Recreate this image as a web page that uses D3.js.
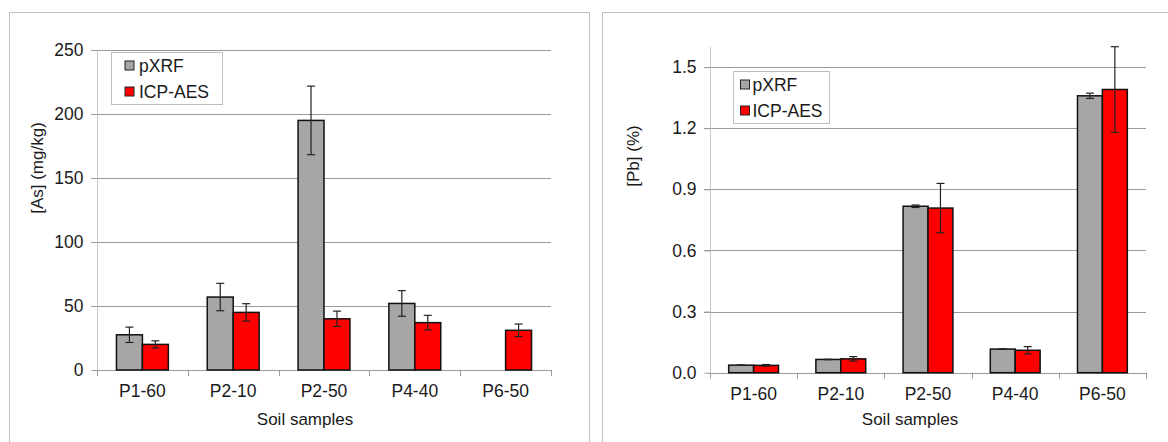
<!DOCTYPE html>
<html><head><meta charset="utf-8">
<script src="https://cdn.jsdelivr.net/npm/d3@7"></script>
<style>
body{margin:0;background:#fff;}
text{font-family:"Liberation Sans",Arial,sans-serif;fill:#1a1a1a;}
</style></head>
<body><svg id="c" width="1168" height="442"></svg>
<script>
const categories = ["P1-60","P2-10","P2-50","P4-40","P6-50"];
const seriesNames = ["pXRF","ICP-AES"];
const seriesColors = ["#a6a6a6","#ff0000"];
// As (mg/kg)
const asPXRF = [27.5, 57, 195, 52, null];
const asPXRFErr = [6, 10.7, 26.8, 10, null];
const asICP = [20, 45, 40, 37, 31];
const asICPErr = [2.8, 6.8, 6, 5.7, 4.9];
const asTicks = [0, 50, 100, 150, 200, 250];
// Pb (%)
const pbPXRF = [0.037, 0.065, 0.817, 0.116, 1.359];
const pbPXRFErr = [0.001, 0.001, 0.006, 0.001, 0.013];
const pbICP = [0.036, 0.068, 0.808, 0.110, 1.390];
const pbICPErr = [0.004, 0.011, 0.121, 0.018, 0.21];
const pbTicks = [0, 0.3, 0.6, 0.9, 1.2, 1.5];

const svg = d3.select("#c");
const FS = "17px";

// panel frames
svg.append("path").attr("d","M9.5,442 V12.5 H589.5 V442").attr("fill","none").attr("stroke","#bdbdbd");
svg.append("path").attr("d","M602.5,442 V12.5 H1168").attr("fill","none").attr("stroke","#bdbdbd");

function chart(cfg){
  const g = svg.append("g");
  const x = d3.scaleBand().domain(categories).range([cfg.x0, cfg.x1]).paddingInner(0).paddingOuter(0);
  const y = d3.scaleLinear().domain([0, cfg.ymax]).range([cfg.y0, cfg.y1]);
  const bw = x.bandwidth()/3.5;
  const xs = d3.scaleBand().domain([0,1]).range([0, 2*bw]);
  // gridlines
  g.selectAll(".grid").data(cfg.ticks.filter(d=>d>0)).join("line")
    .attr("x1", cfg.x0-6).attr("x2", cfg.x1)
    .attr("y1", d=>Math.round(y(d))+0.5).attr("y2", d=>Math.round(y(d))+0.5)
    .attr("stroke","#9a9a9a").attr("stroke-width",1);
  // y axis
  const ya = d3.axisLeft(y).tickValues(cfg.ticks).tickSize(6).tickPadding(8).tickFormat(cfg.fmt);
  const yg = g.append("g").attr("transform",`translate(${cfg.x0+0.5},0)`).call(ya);
  yg.select(".domain").attr("stroke","#c8c8c8").attr("d",`M0,${cfg.y0}V${cfg.y1}`);
  yg.selectAll(".tick line").attr("stroke","#9a9a9a");
  yg.selectAll(".tick text").style("font-size","17.5px").attr("fill","#1a1a1a").attr("font-family","Liberation Sans, Arial, sans-serif");
  // x axis
  const xa = d3.axisBottom(x).tickSize(0).tickPadding(12);
  const xg = g.append("g").attr("transform",`translate(0,${Math.round(cfg.y0)+0.5})`).call(xa);
  xg.select(".domain").attr("stroke","#9a9a9a").attr("d",`M${cfg.x0},0H${cfg.x1}`);
  xg.selectAll(".tick text").style("font-size","17.5px").attr("fill","#1a1a1a").attr("font-family","Liberation Sans, Arial, sans-serif").attr("dy","0.85em");
  g.selectAll(".xt").data(d3.range(categories.length+1)).join("line")
    .attr("x1", i=>Math.round(cfg.x0 + i*x.step())+0.5).attr("x2", i=>Math.round(cfg.x0 + i*x.step())+0.5)
    .attr("y1", cfg.y0).attr("y2", cfg.y0+6).attr("stroke","#9a9a9a");
  // bars
  cfg.series.forEach((s, si)=>{
    const data = categories.map((c,i)=>({c, v:s.vals[i], e:s.err[i]})).filter(d=>d.v!=null);
    g.selectAll(".b"+si).data(data).join("rect")
      .attr("x", d=>x(d.c)+x.bandwidth()/2 - bw + xs(si))
      .attr("width", bw)
      .attr("y", d=>y(d.v)).attr("height", d=>cfg.y0 - y(d.v))
      .attr("fill", seriesColors[si]).attr("stroke","#111").attr("stroke-width",1.5);
    const cx = d=>x(d.c)+x.bandwidth()/2 - bw + xs(si) + bw/2;
    const eg = g.selectAll(".e"+si).data(data.filter(d=>d.e!=null)).join("g").attr("stroke","#222").attr("stroke-width",1.2);
    eg.append("line").attr("x1",cx).attr("x2",cx).attr("y1",d=>y(d.v+d.e)).attr("y2",d=>y(d.v-d.e));
    eg.append("line").attr("x1",d=>cx(d)-4).attr("x2",d=>cx(d)+4).attr("y1",d=>y(d.v+d.e)).attr("y2",d=>y(d.v+d.e));
    eg.append("line").attr("x1",d=>cx(d)-4).attr("x2",d=>cx(d)+4).attr("y1",d=>y(d.v-d.e)).attr("y2",d=>y(d.v-d.e));
  });
  // labels
  g.append("text").attr("transform",`translate(${cfg.ylx},${cfg.yly}) rotate(-90)`)
    .attr("text-anchor","middle").attr("dy","0.35em").style("font-size",FS).text(cfg.ylabel);
  g.append("text").attr("x", cfg.xlx).attr("y", 425).attr("text-anchor","middle").style("font-size",FS).text("Soil samples");
  // legend
  const lg = g.append("g");
  lg.append("rect").attr("x",cfg.lx+0.5).attr("y",cfg.ly+0.5).attr("width",cfg.lw).attr("height",cfg.lh)
    .attr("fill","#fff").attr("stroke","#bdbdbd");
  seriesNames.forEach((n,i)=>{
    lg.append("rect").attr("x",cfg.lx+cfg.sq).attr("y",cfg.ly+9+i*26).attr("width",9).attr("height",9)
      .attr("fill",seriesColors[i]).attr("stroke","#222").attr("stroke-width",1);
    lg.append("text").attr("x",cfg.lx+cfg.sq+cfg.tx).attr("y",cfg.ly+20+i*26).style("font-size","17.5px").text(n);
  });
}

chart({x0:97, x1:551, y0:370, y1:50, ymax:250, ticks:asTicks, fmt:d3.format("d"),
  series:[{vals:asPXRF, err:asPXRFErr},{vals:asICP, err:asICPErr}],
  ylabel:"[As] (mg/kg)", ylx:37, yly:168, xlx:305,
  lx:111, ly:52, lw:111, lh:52, sq:14, tx:14});

chart({x0:710, x1:1146, y0:372.7, y1:46.7, ymax:1.6, ticks:pbTicks, fmt:d3.format(".1f"),
  series:[{vals:pbPXRF, err:pbPXRFErr},{vals:pbICP, err:pbICPErr}],
  ylabel:"[Pb] (%)", ylx:633, yly:156, xlx:910,
  lx:733, ly:71, lw:96, lh:52, sq:7.5, tx:12});
</script></body></html>
